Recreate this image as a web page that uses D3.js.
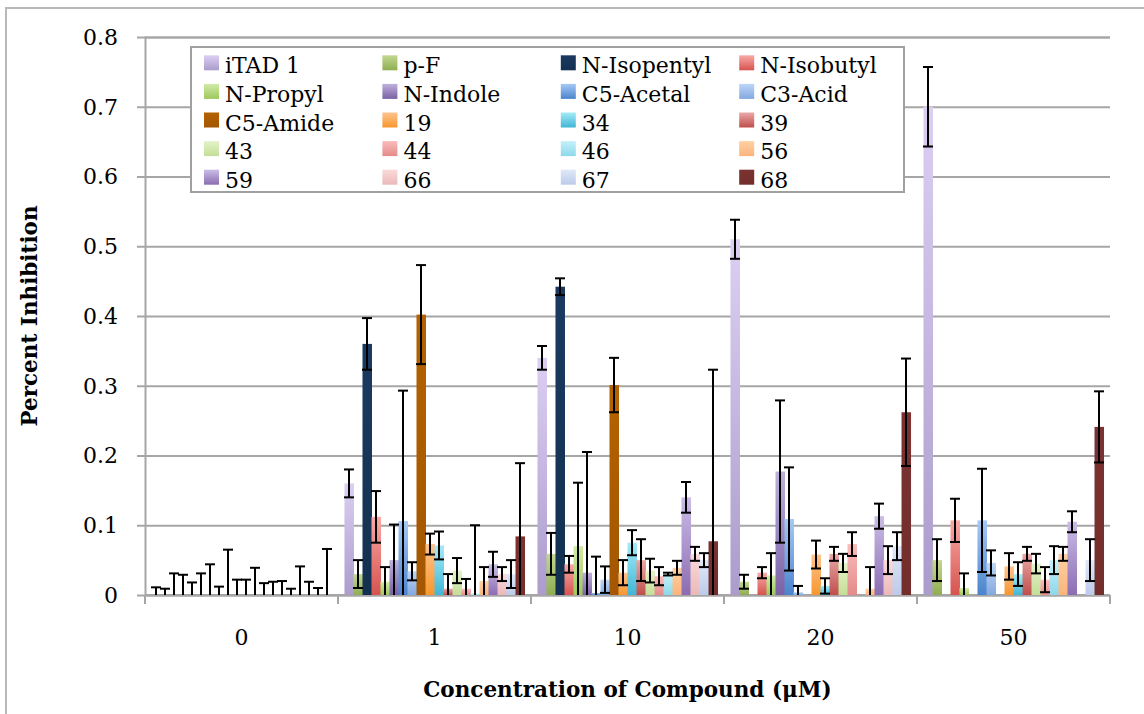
<!DOCTYPE html>
<html lang="en">
<head>
<meta charset="utf-8" />
<script src="https://d3js.org/d3.v7.min.js"></script>
<style>
  body { margin: 0; background: #fff; }
  text { font-family: "DejaVu Serif", serif; fill: #000; }
  .tick-label { font-size: 22px; }
  .legend-label { font-size: 22px; }
  .axis-title { font-size: 21.5px; font-weight: bold; }
</style>
</head>
<body>
<script>
var groups = ["0", "1", "10", "20", "50"];

var series = ["iTAD 1", "p-F", "N-Isopentyl", "N-Isobutyl",
              "N-Propyl", "N-Indole", "C5-Acetal", "C3-Acid",
              "C5-Amide", "19", "34", "39",
              "43", "44", "46", "56",
              "59", "66", "67", "68"];

// top / bottom of each bar's gradient
var colorTop = ["#dccff2", "#c2d890", "#1c3a60", "#f9a9a6",
                "#d1eba6", "#bfb0dc", "#a6c9f5", "#bcd6f7",
                "#b46200", "#ffc48e", "#a5ebf7", "#eaa8a7",
                "#e4f3c8", "#fbbcbb", "#c4f1f9", "#ffd1a3",
                "#cbbde6", "#fbdada", "#dfe8f8", "#7a3330"];
var colorBottom = ["#ab9ccc", "#8fad52", "#12304f", "#d6534f",
                   "#9cc85c", "#7a61a5", "#4a84cc", "#84a8df",
                   "#a45700", "#f7962e", "#40b6d5", "#bf4f4c",
                   "#c4de98", "#e38b8a", "#8ed8ea", "#fbb47a",
                   "#8b6db3", "#eab9b9", "#bccbea", "#732d2a"];

// mean values at each concentration, in series order
var val0  = [0, 0, 0, 0, 0, 0, 0, 0, 0, 0, 0, 0, 0, 0, 0, 0, 0, 0, 0, 0];
var val1  = [0.16, 0.03, 0.36, 0.112, 0.019, 0.05, 0.106, 0.034, 0.402, 0.073, 0.071, 0.009, 0.035, 0.009, 0.002, 0.02, 0.044, 0.03, 0.03, 0.084];
var val10 = [0.34, 0.059, 0.442, 0.044, 0.07, 0.032, 0.003, 0.022, 0.301, 0.032, 0.075, 0.05, 0.035, 0.027, 0.03, 0.039, 0.14, 0.059, 0.05, 0.077];
var val20 = [0.51, 0.019, 0, 0.032, 0.028, 0.177, 0.109, 0.004, 0, 0.058, 0.013, 0.059, 0.046, 0.073, 0, 0.009, 0.113, 0.05, 0.07, 0.262];
var val50 = [0.70, 0.05, 0, 0.107, 0.01, 0, 0.107, 0.046, 0, 0.041, 0.03, 0.059, 0.045, 0.022, 0.05, 0.059, 0.105, 0, 0.05, 0.241];

// error bar sizes
var err0  = [0.011, 0.009, 0.031, 0.029, 0.018, 0.031, 0.044, 0.012, 0.065, 0.022, 0.022, 0.039, 0.017, 0.019, 0.02, 0.009, 0.041, 0.019, 0.01, 0.066];
var err1  = [0.02, 0.02, 0.037, 0.037, 0.021, 0.051, 0.187, 0.013, 0.071, 0.015, 0.02, 0.021, 0.018, 0.014, 0.098, 0.02, 0.018, 0.01, 0.02, 0.105];
var err10 = [0.017, 0.03, 0.012, 0.012, 0.091, 0.173, 0.052, 0.019, 0.039, 0.018, 0.018, 0.03, 0.017, 0.013, 0.002, 0.01, 0.022, 0.01, 0.01, 0.246];
var err20 = [0.028, 0.01, 0, 0.008, 0.032, 0.102, 0.074, 0.009, 0, 0.02, 0.011, 0.01, 0.013, 0.017, 0, 0.031, 0.018, 0.02, 0.02, 0.077];
var err50 = [0.057, 0.03, 0, 0.031, 0.021, 0, 0.074, 0.018, 0, 0.019, 0.017, 0.01, 0.014, 0.018, 0.02, 0.01, 0.015, 0, 0.03, 0.051];

var yTicks = [0, 0.1, 0.2, 0.3, 0.4, 0.5, 0.6, 0.7, 0.8];
var yTickLabels = ["0", "0.1", "0.2", "0.3", "0.4", "0.5", "0.6", "0.7", "0.8"];

var values = [val0, val1, val10, val20, val50];
var errors = [err0, err1, err10, err20, err50];

var width = 1144,
    height = 714;
var plotLeft = 145, plotRight = 1110, plotTop = 37, plotBottom = 595;

var svg = d3.select("body").append("svg")
    .attr("width", width)
    .attr("height", height);

// outer chart frame
svg.append("rect")
    .attr("x", 6).attr("y", 8)
    .attr("width", width).attr("height", height)
    .attr("fill", "none")
    .attr("stroke", "#b8b8b8")
    .attr("stroke-width", 2);

var x0 = d3.scaleBand().domain(groups).range([plotLeft, plotRight]);
var x1 = d3.scaleBand().domain(series).range([0, x0.bandwidth()])
    .paddingInner(0).paddingOuter(0.72);
var y = d3.scaleLinear().domain([0, 0.8]).range([plotBottom, plotTop]);

var defs = svg.append("defs");
series.forEach(function (s, i) {
    var g = defs.append("linearGradient")
        .attr("id", "grad" + i)
        .attr("x1", 0).attr("y1", 0).attr("x2", 0).attr("y2", 1);
    g.append("stop").attr("offset", "0%").attr("stop-color", colorTop[i]);
    g.append("stop").attr("offset", "100%").attr("stop-color", colorBottom[i]);
});

// gridlines + y axis
var yAxis = d3.axisLeft(y)
    .tickValues(yTicks)
    .tickSize(-(plotRight - plotLeft))
    .tickFormat("");
svg.append("g")
    .attr("transform", "translate(" + plotLeft + ",0)")
    .call(yAxis)
    .call(function (g) {
        g.select(".domain").attr("stroke", "#a6a6a6").attr("stroke-width", 2);
        g.selectAll(".tick line").attr("stroke", "#a6a6a6").attr("stroke-width", 2)
            .attr("x1", -8);
    });

svg.selectAll(".tick-label.y")
    .data(yTicks)
    .enter().append("text")
    .attr("class", "tick-label y")
    .attr("x", 118)
    .attr("y", function (d) { return y(d); })
    .attr("dy", "0.36em")
    .attr("text-anchor", "end")
    .text(function (d, i) { return yTickLabels[i]; });

// x axis line with ticks at group boundaries
var xAxisG = svg.append("g");
xAxisG.append("line")
    .attr("x1", plotLeft).attr("x2", plotRight)
    .attr("y1", plotBottom).attr("y2", plotBottom)
    .attr("stroke", "#a6a6a6").attr("stroke-width", 2);
xAxisG.selectAll(".xtick")
    .data(groups.concat(["end"]))
    .enter().append("line")
    .attr("x1", function (d, i) { return plotLeft + i * x0.step(); })
    .attr("x2", function (d, i) { return plotLeft + i * x0.step(); })
    .attr("y1", plotBottom).attr("y2", plotBottom + 9)
    .attr("stroke", "#a6a6a6").attr("stroke-width", 2);

svg.selectAll(".tick-label.x")
    .data(groups)
    .enter().append("text")
    .attr("class", "tick-label x")
    .attr("x", function (d) { return x0(d) + x0.bandwidth() / 2; })
    .attr("y", 645)
    .attr("text-anchor", "middle")
    .text(function (d) { return d; });

// bars
var barData = [];
groups.forEach(function (g, gi) {
    series.forEach(function (s, si) {
        barData.push({ group: g, series: s, si: si, v: values[gi][si], e: errors[gi][si] });
    });
});

var barW = x1.bandwidth();
svg.append("g").selectAll("rect")
    .data(barData.filter(function (d) { return d.v > 0; }))
    .enter().append("rect")
    .attr("x", function (d) { return x0(d.group) + x1(d.series); })
    .attr("y", function (d) { return y(d.v); })
    .attr("width", barW + 0.5)
    .attr("height", function (d) { return y(0) - y(d.v); })
    .attr("fill", function (d) { return "url(#grad" + d.si + ")"; });

// error bars
var eb = svg.append("g")
    .attr("stroke", "#000")
    .attr("stroke-width", 2);
barData.filter(function (d) { return d.e > 0; }).forEach(function (d) {
    var cx = x0(d.group) + x1(d.series) + barW / 2;
    var hi = d.v + d.e, lo = Math.max(0, d.v - d.e);
    eb.append("line")
        .attr("x1", cx).attr("x2", cx)
        .attr("y1", y(lo)).attr("y2", y(hi));
    eb.append("line")
        .attr("x1", cx - 5).attr("x2", cx + 5)
        .attr("y1", y(hi)).attr("y2", y(hi));
    if (d.v - d.e > 0.001) {
        eb.append("line")
            .attr("x1", cx - 5).attr("x2", cx + 5)
            .attr("y1", y(lo)).attr("y2", y(lo));
    }
});

// legend
var legend = svg.append("g");
legend.append("rect")
    .attr("x", 191).attr("y", 47)
    .attr("width", 713).attr("height", 145)
    .attr("fill", "#fff")
    .attr("stroke", "#a0a0a0")
    .attr("stroke-width", 2);

var item = legend.selectAll(".item")
    .data(series)
    .enter().append("g")
    .attr("transform", function (d, i) {
        return "translate(" + (204 + (i % 4) * 178.4) + "," + (73.3 + Math.floor(i / 4) * 28.6) + ")";
    });
item.append("rect")
    .attr("x", 0).attr("y", -18)
    .attr("width", 15).attr("height", 15)
    .attr("fill", function (d, i) { return "url(#grad" + i + ")"; });
item.append("text")
    .attr("class", "legend-label")
    .attr("x", 21).attr("y", 0)
    .text(function (d) { return d; });

// axis titles
svg.append("text")
    .attr("class", "axis-title")
    .attr("transform", "translate(37," + ((plotTop + plotBottom) / 2) + ") rotate(-90)")
    .attr("text-anchor", "middle")
    .text("Percent Inhibition");

svg.append("text")
    .attr("class", "axis-title")
    .attr("x", (plotLeft + plotRight) / 2)
    .attr("y", 697)
    .attr("text-anchor", "middle")
    .text("Concentration of Compound (\u03bcM)");
</script>
</body>
</html>
